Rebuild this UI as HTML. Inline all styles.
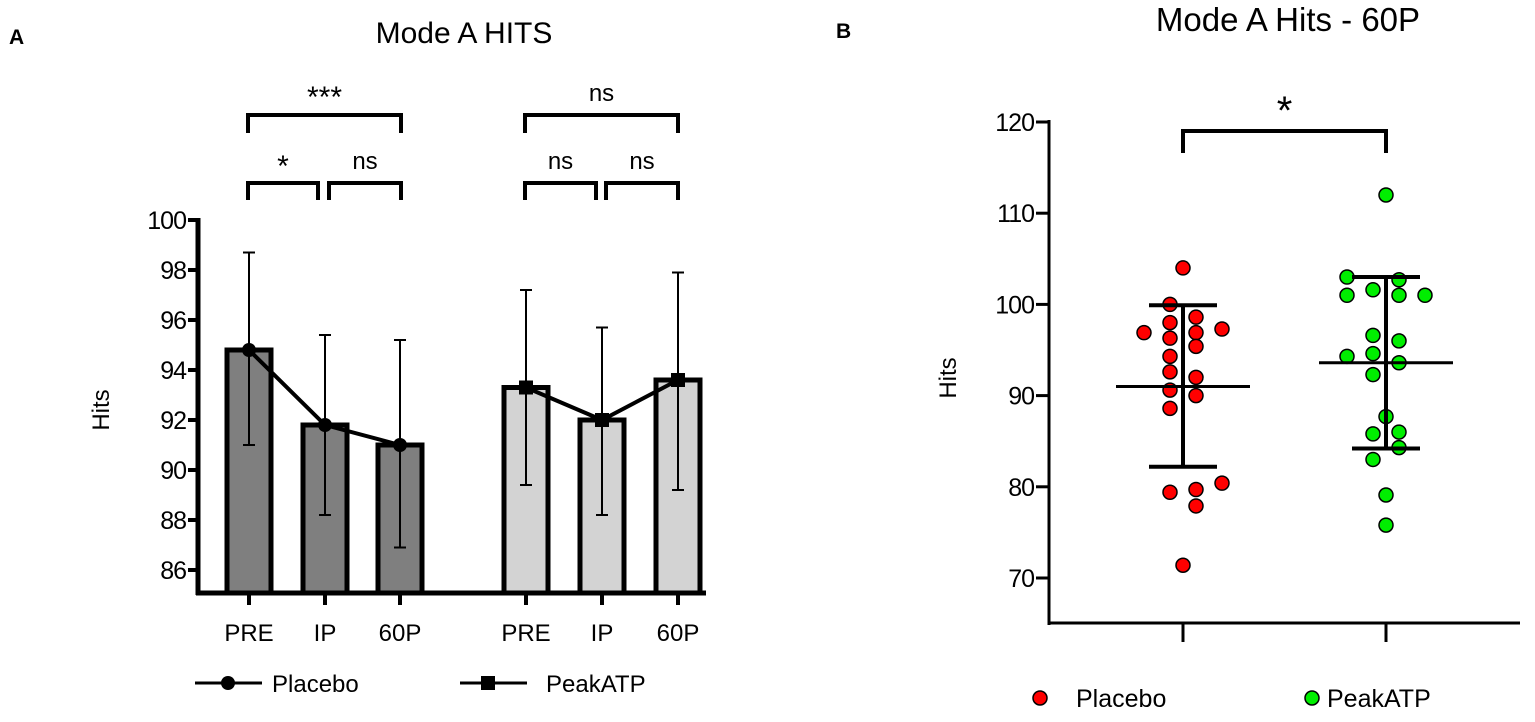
<!DOCTYPE html>
<html><head><meta charset="utf-8"><style>
body{margin:0;background:#fff;}
svg{display:block;font-family:"Liberation Sans",Arial,sans-serif;}
</style></head><body>
<svg id="s" width="1535" height="722" viewBox="0 0 1535 722" xmlns="http://www.w3.org/2000/svg">
<text x="9" y="44" font-size="21" font-weight="bold">A</text>
<text x="464" y="43" font-size="30" text-anchor="middle">Mode A HITS</text>
<text x="836" y="38" font-size="21" font-weight="bold">B</text>
<text x="1288" y="31" font-size="33" text-anchor="middle">Mode A Hits - 60P</text>
<g id="ga"></g>
<g id="gb"></g>
</svg>
<script>
// ---- Panel A data ----
const catsA = ["PRE","IP","60P","PRE","IP","60P"];
const placeboMean = [94.8, 91.8, 91.0];
const placeboUpper = [98.7, 95.4, 95.2];
const placeboLower = [91.0, 88.2, 86.9];
const peakMean = [93.3, 92.0, 93.6];
const peakUpper = [97.2, 95.7, 97.9];
const peakLower = [89.4, 88.2, 89.2];
const ticksA = [86, 88, 90, 92, 94, 96, 98, 100];
// ---- Panel B data ----
const placeboHits = [104.0,100.0,98.6,98.0,96.9,96.9,97.3,96.3,95.4,94.3,92.6,92.0,90.6,90.0,88.6,79.4,79.7,77.9,80.4,71.4];
const placeboJitter = [0,-1,1,-1,-3,1,3,-1,1,-1,-1,1,-1,1,-1,-1,1,1,3,0];
const peakHits = [112.0,103.0,102.7,101.6,101.0,101.0,101.0,96.6,96.0,94.3,94.6,93.6,92.3,87.7,85.8,86.0,84.3,83.0,79.1,75.8];
const peakJitter = [0,-3,1,-1,-3,1,3,-1,1,-3,-1,1,-1,0,-1,1,1,-1,0,0];
const statsB = [[91.0, 99.9, 82.2],[93.6, 103.0, 84.2]];
const ticksB = [70, 80, 90, 100, 110, 120];

const NS="http://www.w3.org/2000/svg";
function mk(p,tag,attrs,txt){const e=document.createElementNS(NS,tag);for(const k in attrs)e.setAttribute(k,attrs[k]);if(txt!==undefined)e.textContent=txt;p.appendChild(e);return e;}

// Panel A
const ga=document.getElementById('ga');
const yA=v=>220+(100-v)*25;
const xA=[249,325,400,526,602,678];
const axA=198, baseA=593;
mk(ga,'line',{x1:axA,y1:218,x2:axA,y2:baseA+2,stroke:'#000','stroke-width':5});
mk(ga,'line',{x1:axA-2,y1:baseA,x2:706,y2:baseA,stroke:'#000','stroke-width':5});
ticksA.forEach(t=>{
  const l=mk(ga,'line',{x1:axA-10,y1:yA(t),x2:axA,y2:yA(t),stroke:'#000','stroke-width':4});
  
  
  const tx=mk(ga,'text',{x:axA-12,y:yA(t)+9,'font-size':25,'text-anchor':'end','letter-spacing':-1},String(t));
  
  
});
catsA.forEach((c,i)=>{
  mk(ga,'line',{x1:xA[i],y1:baseA,x2:xA[i],y2:baseA+12,stroke:'#000','stroke-width':4});
  const tx=mk(ga,'text',{x:xA[i],y:641,'font-size':24,'text-anchor':'middle'},c);
  
  
});
mk(ga,'text',{x:0,y:0,'font-size':24,'text-anchor':'middle',transform:'translate(109,410) rotate(-90)'},'Hits');
function drawGroup(means,up,lo,off,fill,marker){
  means.forEach((m,i)=>{
    const x=xA[i+off];
    const b=mk(ga,'rect',{x:x-22,y:yA(m),width:44,height:baseA-yA(m),fill:fill,stroke:'#000','stroke-width':5});
    
    
  });
  means.forEach((m,i)=>{
    const x=xA[i+off];
    mk(ga,'line',{x1:x,y1:yA(up[i]),x2:x,y2:yA(lo[i]),stroke:'#000','stroke-width':2});
    mk(ga,'line',{x1:x-6,y1:yA(up[i]),x2:x+6,y2:yA(up[i]),stroke:'#000','stroke-width':2});
    mk(ga,'line',{x1:x-6,y1:yA(lo[i]),x2:x+6,y2:yA(lo[i]),stroke:'#000','stroke-width':2});
  });
  const pts=means.map((m,i)=>xA[i+off]+','+yA(m)).join(' ');
  const pl=mk(ga,'polyline',{points:pts,fill:'none',stroke:'#000','stroke-width':4});
  
  
  means.forEach((m,i)=>{
    const x=xA[i+off];
    let p;
    if(marker==='c') p=mk(ga,'circle',{cx:x,cy:yA(m),r:7,fill:'#000'});
    else p=mk(ga,'rect',{x:x-7,y:yA(m)-7,width:14,height:14,fill:'#000'});
    
    
  });
}
drawGroup(placeboMean,placeboUpper,placeboLower,0,'#7f7f7f','c');
drawGroup(peakMean,peakUpper,peakLower,3,'#d3d3d3','s');
function bracket(g,x1,x2,y,drop,label,ly,fs){
  mk(g,'path',{d:`M${x1},${y+drop} V${y} H${x2} V${y+drop}`,fill:'none',stroke:'#000','stroke-width':4});
  mk(g,'text',{x:(x1+x2)/2,y:ly,'font-size':fs,'text-anchor':'middle'},label);
}
bracket(ga,248,401,115,18,'***',107,30);
bracket(ga,248,318,183,17,'*',176,30);
bracket(ga,329,401,183,17,'ns',169,24);
bracket(ga,525,678,115,18,'ns',101,24);
bracket(ga,525,596,183,17,'ns',169,24);
bracket(ga,606,678,183,17,'ns',169,24);
// legend A
mk(ga,'line',{x1:195,y1:683,x2:262,y2:683,stroke:'#000','stroke-width':3});
mk(ga,'circle',{cx:228,cy:683,r:7,fill:'#000'});
mk(ga,'text',{x:272,y:692,'font-size':24},'Placebo');
mk(ga,'line',{x1:460,y1:683,x2:527,y2:683,stroke:'#000','stroke-width':3});
mk(ga,'rect',{x:481,y:676,width:14,height:14,fill:'#000'});
mk(ga,'text',{x:546,y:692,'font-size':24},'PeakATP');

// Panel B
const gb=document.getElementById('gb');
const yB=v=>122+(120-v)*9.12;
const xB=[1183,1386];
const axB=1049, baseB=623;
mk(gb,'line',{x1:axB,y1:120,x2:axB,y2:baseB+2,stroke:'#000','stroke-width':3});
mk(gb,'line',{x1:axB-1,y1:baseB,x2:1520,y2:baseB,stroke:'#000','stroke-width':3});
ticksB.forEach(t=>{
  mk(gb,'line',{x1:axB-13,y1:yB(t),x2:axB,y2:yB(t),stroke:'#000','stroke-width':3});
  const tx=mk(gb,'text',{x:axB-15,y:yB(t)+9,'font-size':25,'text-anchor':'end','letter-spacing':-1},String(t));
  
  
});
xB.forEach(x=>mk(gb,'line',{x1:x,y1:baseB,x2:x,y2:baseB+19,stroke:'#000','stroke-width':3}));
mk(gb,'text',{x:0,y:0,'font-size':24,'text-anchor':'middle',transform:'translate(956,378) rotate(-90)'},'Hits');
bracket(gb,1183,1386,131,22,'*',124,40);
function dots(vals,jit,cx,col){
  vals.forEach((v,i)=>{
    const c=mk(gb,'circle',{cx:cx+jit[i]*13,cy:yB(v),r:7,fill:col,stroke:'#000','stroke-width':1.5});
    
    
  });
}
dots(placeboHits,placeboJitter,xB[0],'#ff0000');
dots(peakHits,peakJitter,xB[1],'#00ee00');
statsB.forEach((s,i)=>{
  const x=xB[i];
  mk(gb,'line',{x1:x-67,y1:yB(s[0]),x2:x+67,y2:yB(s[0]),stroke:'#000','stroke-width':3});
  mk(gb,'line',{x1:x,y1:yB(s[1]),x2:x,y2:yB(s[2]),stroke:'#000','stroke-width':4});
  mk(gb,'line',{x1:x-34,y1:yB(s[1]),x2:x+34,y2:yB(s[1]),stroke:'#000','stroke-width':4});
  mk(gb,'line',{x1:x-34,y1:yB(s[2]),x2:x+34,y2:yB(s[2]),stroke:'#000','stroke-width':4});
});
mk(gb,'circle',{cx:1040,cy:698,r:7,fill:'#ff0000',stroke:'#000','stroke-width':1.5});
mk(gb,'text',{x:1076,y:707,'font-size':25},'Placebo');
mk(gb,'circle',{cx:1312,cy:698,r:7,fill:'#00ee00',stroke:'#000','stroke-width':1.5});
mk(gb,'text',{x:1327,y:707,'font-size':25},'PeakATP');
</script>
</body></html>
